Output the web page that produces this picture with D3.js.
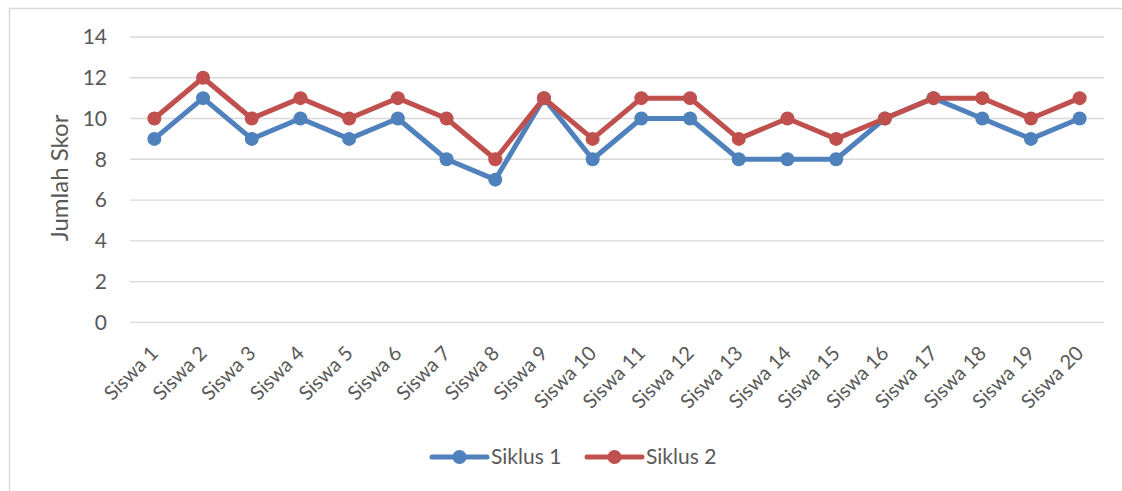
<!DOCTYPE html>
<html>
<head>
<meta charset="utf-8">
<script src="https://cdn.jsdelivr.net/npm/d3@7"></script>
<style>
  body { margin: 0; background: #fff; }
  text { font-family: Lato, "Open Sans", sans-serif; fill: #595959; }
</style>
</head>
<body>
<div id="chart"></div>
<script>
// datos
const siswa = d3.range(1, 21).map(i => "Siswa " + i);
const siklus1 = [9, 11, 9, 10, 9, 10, 8, 7, 11, 8, 10, 10, 8, 8, 8, 10, 11, 10, 9, 10];
const siklus2 = [10, 12, 10, 11, 10, 11, 10, 8, 11, 9, 11, 11, 9, 10, 9, 10, 11, 11, 10, 11];
const yTicks = [0, 2, 4, 6, 8, 10, 12, 14];

const WIDTH = 1122;
const HEIGHT = 491;

const series = [
  { name: "Siklus 1", values: siklus1, color: "#4F81BD" },
  { name: "Siklus 2", values: siklus2, color: "#C0504D" },
];

const SVG = d3.select("#chart")
  .append("svg")
  .attr("width", WIDTH)
  .attr("height", HEIGHT);

// marco del area del grafico
SVG.append("rect")
  .attr("x", 9.5).attr("y", 8.5)
  .attr("width", WIDTH).attr("height", HEIGHT)
  .attr("fill", "none")
  .attr("stroke", "#d9d9d9")
  .attr("stroke-width", 1.5);

const x = d3.scaleBand().domain(siswa).range([130, 1104]);
const y = d3.scaleLinear().domain([0, 14]).range([322.3, 37]);
const cx = d => x(d) + x.bandwidth() / 2;

// lineas de grilla
SVG.append("g")
  .selectAll("line")
  .data(yTicks)
  .join("line")
  .attr("x1", 130).attr("x2", 1104)
  .attr("y1", d => y(d)).attr("y2", d => y(d))
  .attr("stroke", "#d9d9d9")
  .attr("stroke-width", 1.3);

// eje y
const yAxis = SVG.append("g")
  .attr("transform", "translate(130,0)")
  .call(d3.axisLeft(y).tickValues(yTicks).tickSize(0).tickPadding(23));
yAxis.select(".domain").remove();
yAxis.selectAll("text")
  .style("font-size", "21px")
  .style("font-family", "Lato, sans-serif")
  .attr("fill", "#595959");

// eje x
const xAxis = SVG.append("g")
  .attr("transform", "translate(0,322.3)")
  .call(d3.axisBottom(x).tickSize(0).tickFormat(d => d));
xAxis.select(".domain").remove();
xAxis.selectAll("text")
  .style("font-size", "20px")
  .style("font-family", "Lato, sans-serif")
  .attr("fill", "#595959")
  .attr("text-anchor", "end")
  .attr("dy", 0)
  .attr("transform", "translate(3,30) rotate(-45)");

// titulo del eje y
SVG.append("text")
  .attr("transform", "translate(68,178) rotate(-90)")
  .attr("text-anchor", "middle")
  .style("font-size", "24px")
  .text("Jumlah Skor");

// lineas de las series
const line = d3.line()
  .x((d, i) => cx(siswa[i]))
  .y(d => y(d));

const grupos = SVG.selectAll(".serie")
  .data(series)
  .join("g")
  .attr("class", "serie");

grupos.append("path")
  .attr("d", d => line(d.values))
  .attr("fill", "none")
  .attr("stroke", d => d.color)
  .attr("stroke-width", 5)
  .attr("stroke-linejoin", "round")
  .attr("stroke-linecap", "round");

grupos.selectAll("circle")
  .data(d => d.values.map((v, i) => ({ v, i, color: d.color })))
  .join("circle")
  .attr("cx", d => cx(siswa[d.i]))
  .attr("cy", d => y(d.v))
  .attr("r", 7)
  .attr("fill", d => d.color);

// leyenda
const leyenda = SVG.selectAll(".leyenda")
  .data(series)
  .join("g")
  .attr("class", "leyenda")
  .attr("transform", (d, i) => `translate(${432 + i * 155},457)`);

leyenda.append("line")
  .attr("x1", 0).attr("x2", 55)
  .attr("stroke", d => d.color)
  .attr("stroke-width", 5)
  .attr("stroke-linecap", "round");

leyenda.append("circle")
  .attr("cx", 27.5).attr("r", 7)
  .attr("fill", d => d.color);

leyenda.append("text")
  .attr("x", 59)
  .attr("dy", "0.35em")
  .style("font-size", "21px")
  .text(d => d.name);
</script>
</body>
</html>
